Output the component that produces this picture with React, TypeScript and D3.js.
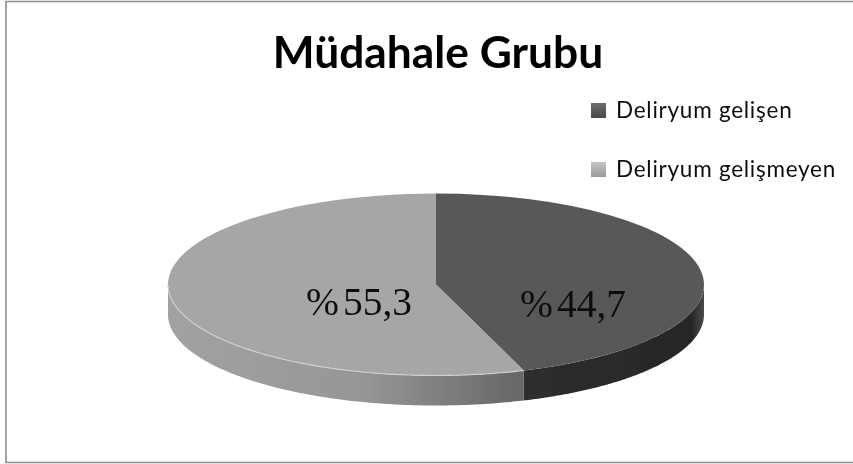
import React from "react";
import * as d3 from "d3";

const title = "Müdahale Grubu";
const categories = ["Deliryum gelişen", "Deliryum gelişmeyen"];
const values = [44.7, 55.3];
const valueLabels = [
  ["%", "44,7"],
  ["%", "55,3"],
];
const topColors = ["#595959", "#a6a6a6"];

const w = 853;
const h = 464;
const cx = 436;
const cy = 284.5;
const rx = 268;
const ry = 91;
const depth = 30;

export default function App() {
  const pie = d3.pie<number>().sort(null).value((d) => d);
  const slices = pie(values);

  const xOf = (a: number) => cx + rx * Math.sin(a);
  const yOf = (a: number) => cy - ry * Math.cos(a);

  // top face: unit arc squashed into the ellipse
  const arc = d3.arc<d3.PieArcDatum<number>>().innerRadius(0).outerRadius(1);

  // side wall only shows on the front half
  const wall = d3
    .area<number>()
    .x((a) => xOf(a))
    .y0((a) => yOf(a))
    .y1((a) => yOf(a) + depth);
  const rim = d3
    .line<number>()
    .x((a) => xOf(a))
    .y((a) => yOf(a));
  const anglesOf = (s: d3.PieArcDatum<number>) => {
    const from = Math.max(s.startAngle, Math.PI / 2);
    const to = Math.min(s.endAngle, (3 * Math.PI) / 2);
    return d3.range(from, to, 0.01).concat([to]);
  };

  const labelAt = [
    { x: 520, y: 317 },
    { x: 306, y: 315 },
  ];

  return (
    <svg
      width={w}
      height={h}
      style={{ position: "absolute", left: 0, top: 0, background: "#fff" }}
    >
      <defs>
        <filter id="soft" x="-5%" y="-5%" width="110%" height="110%">
          <feGaussianBlur stdDeviation="0.7" />
        </filter>
        <filter id="softText" x="-5%" y="-10%" width="110%" height="120%">
          <feGaussianBlur stdDeviation="0.35" />
        </filter>
        <linearGradient id="wallLight" gradientUnits="userSpaceOnUse" x1={cx - rx} x2={xOf(slices[0].endAngle)} y1={0} y2={0}>
          <stop offset="0" stopColor="#a2a2a2" />
          <stop offset="0.55" stopColor="#969696" />
          <stop offset="1" stopColor="#666666" />
        </linearGradient>
        <linearGradient id="wallDark" gradientUnits="userSpaceOnUse" x1={xOf(slices[0].endAngle)} x2={cx + rx} y1={0} y2={0}>
          <stop offset="0" stopColor="#2e2e2e" />
          <stop offset="0.93" stopColor="#262626" />
          <stop offset="1" stopColor="#4a4a4a" />
        </linearGradient>
        <linearGradient id="swatchDark" x1="0" x2="0" y1="0" y2="1">
          <stop offset="0" stopColor="#6e6e6e" />
          <stop offset="1" stopColor="#4a4a4a" />
        </linearGradient>
        <linearGradient id="swatchLight" x1="0" x2="0" y1="0" y2="1">
          <stop offset="0" stopColor="#c4c4c4" />
          <stop offset="1" stopColor="#9a9a9a" />
        </linearGradient>
      </defs>

      {/* frame, open on the right */}
      <path d={`M853,1.5H6V462.5H853`} fill="none" stroke="#8c8c8c" strokeWidth={1.6} />

      <text x={438} y={68} textAnchor="middle" fontFamily="Lato" fontWeight={700} fontSize={44.3} fill="#000" filter="url(#softText)">
        {title}
      </text>

      <g filter="url(#soft)">
        {slices.map((s, i) => (
          <path key={"w" + i} d={wall(anglesOf(s)) ?? ""} fill={i === 0 ? "url(#wallDark)" : "url(#wallLight)"} />
        ))}
        {slices.map((s, i) => (
          <path
            key={"t" + i}
            d={arc(s) ?? ""}
            transform={`translate(${cx},${cy}) scale(${rx},${ry})`}
            fill={topColors[i]}
          />
        ))}
        <path d={rim(anglesOf(slices[1])) ?? ""} fill="none" stroke="#d2d2d2" strokeWidth={1.1} />
      </g>

      {valueLabels.map((t, i) => (
        <text key={t[1]} x={labelAt[i].x} y={labelAt[i].y} fontFamily="Liberation Serif" fontSize={39.5} fill="#111" filter="url(#softText)">
          <tspan>{t[0]}</tspan>
          <tspan dx={4}>{t[1]}</tspan>
        </text>
      ))}

      {categories.map((c, i) => (
        <g key={c} transform={`translate(591,${111 + i * 59})`}>
          <rect x={0} y={-8} width={15} height={15} fill={i === 0 ? "url(#swatchDark)" : "url(#swatchLight)"} filter="url(#soft)" />
          <text x={25} y={7} fontFamily="Lato" fontSize={22.5} letterSpacing={0.75} fill="#111" filter="url(#softText)">
            {c}
          </text>
        </g>
      ))}
    </svg>
  );
}
